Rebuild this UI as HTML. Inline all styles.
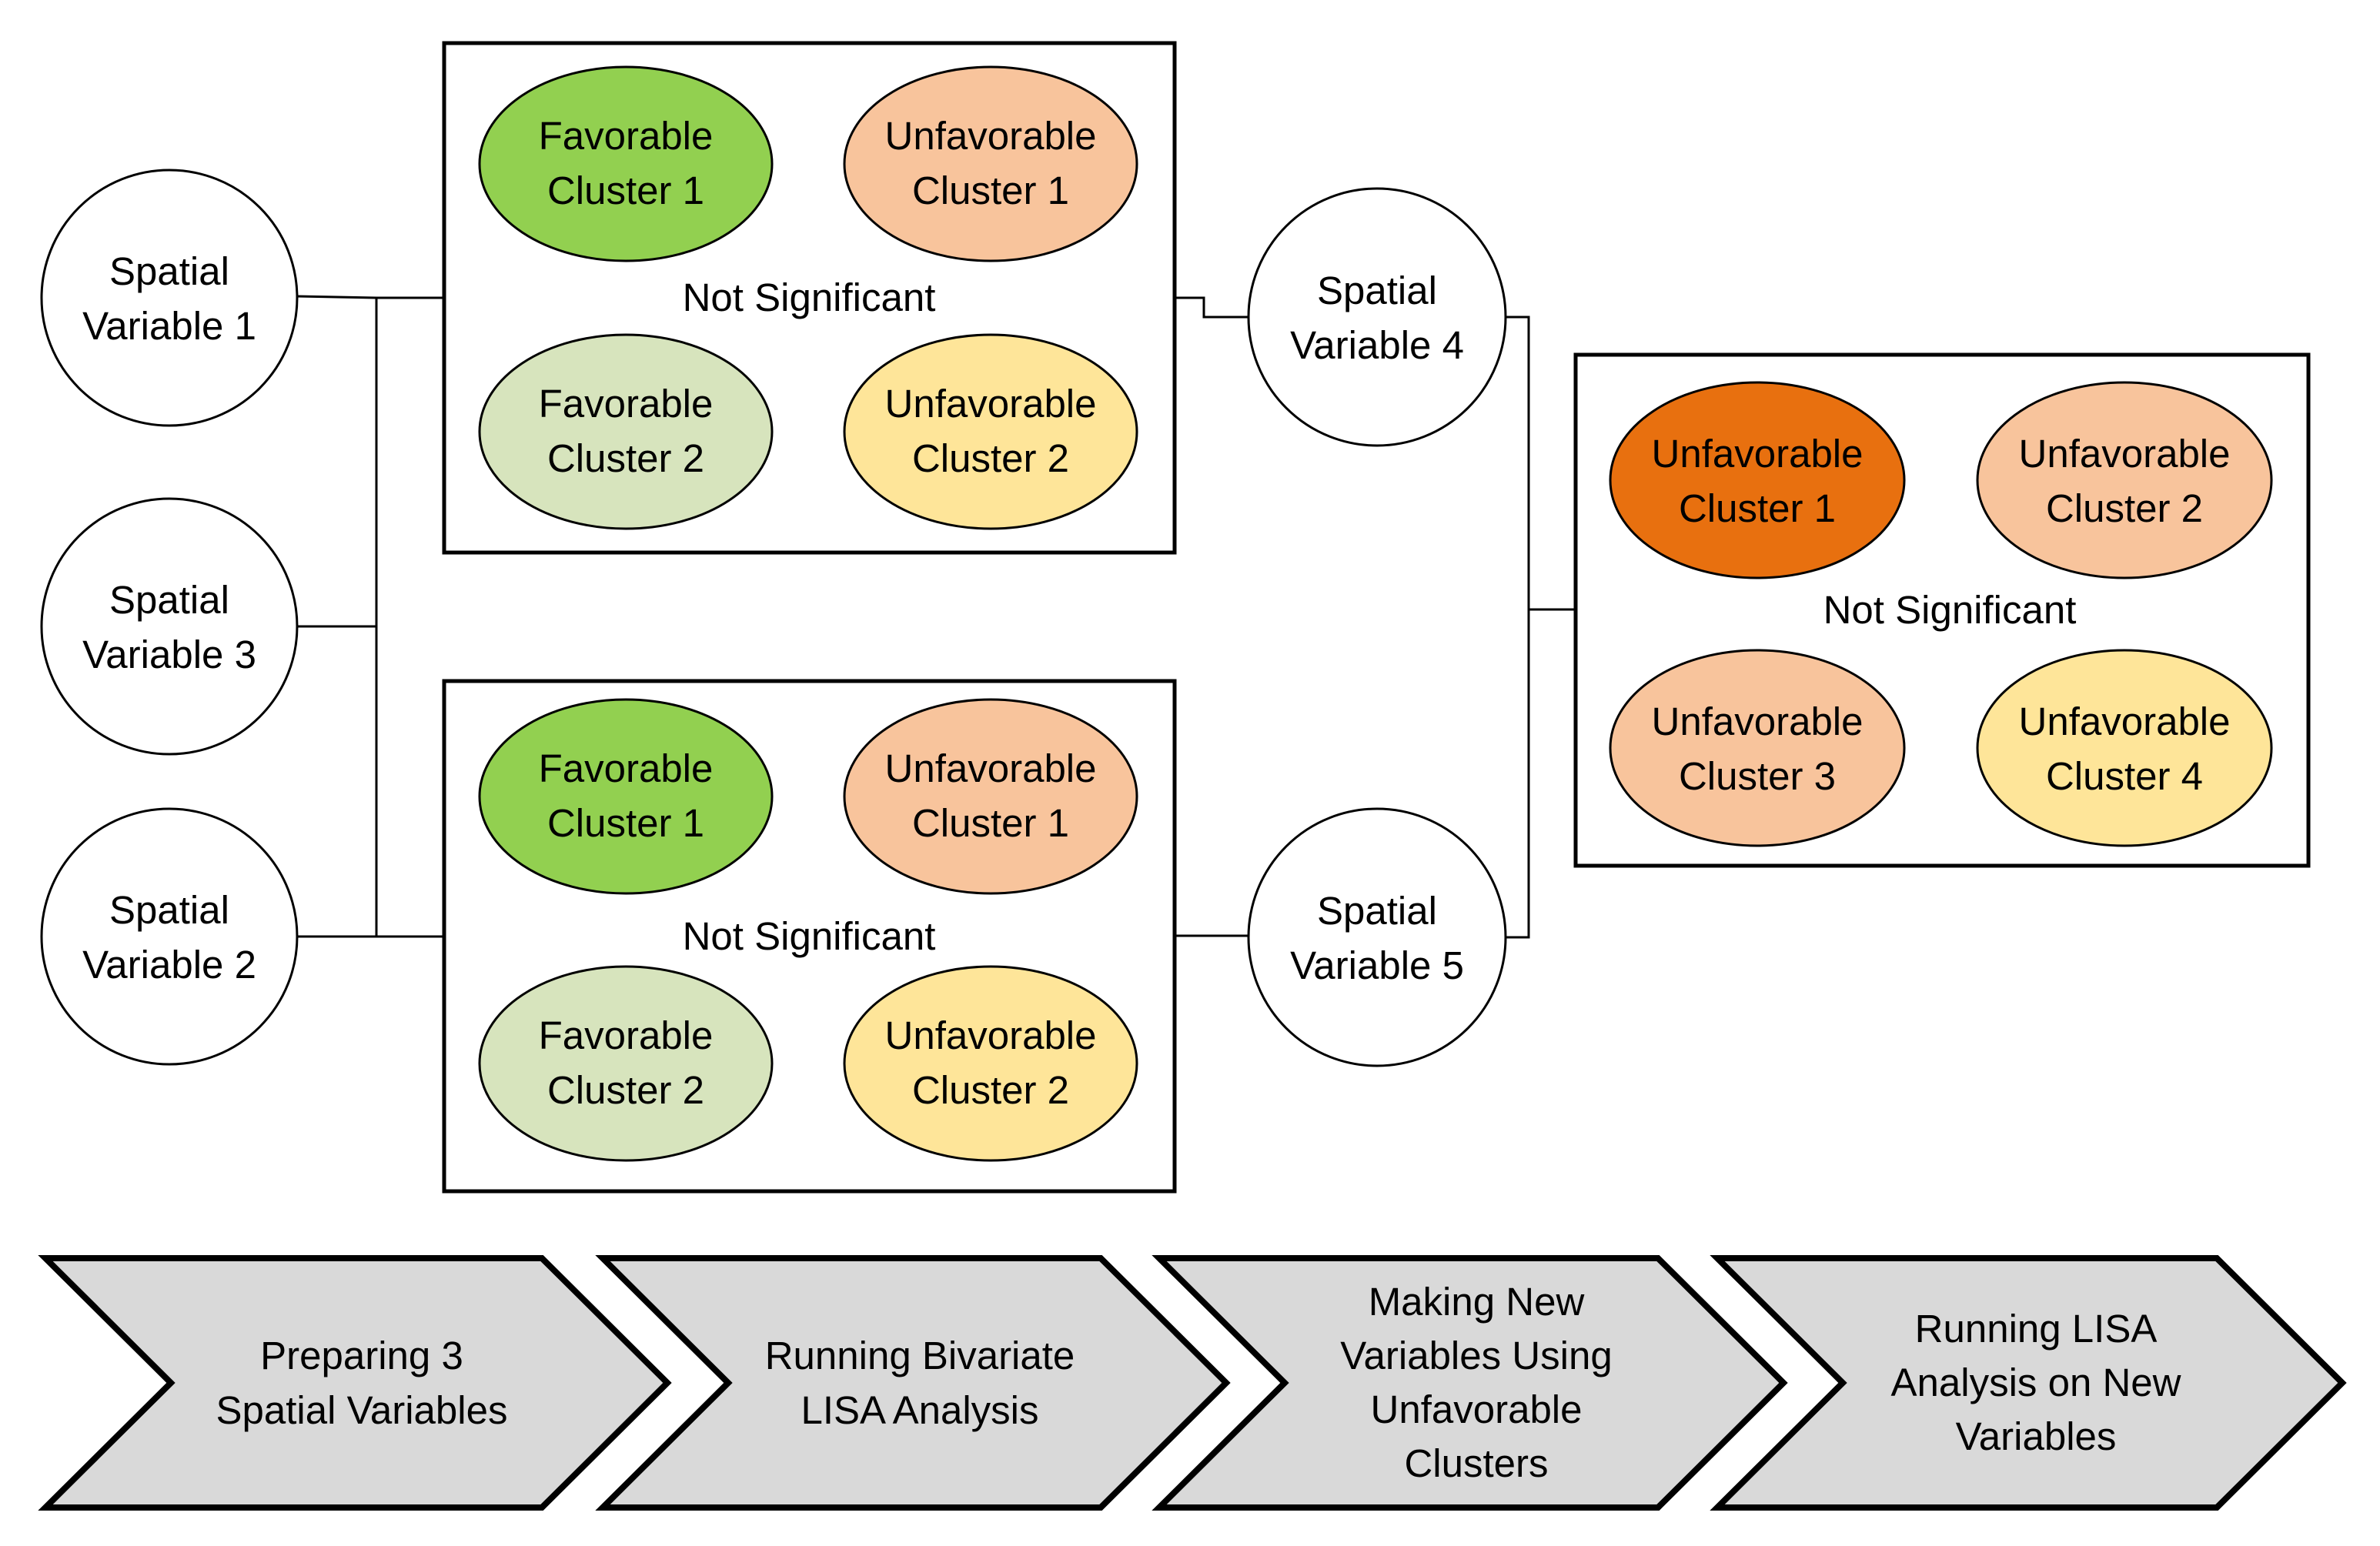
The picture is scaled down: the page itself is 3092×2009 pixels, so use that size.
<!DOCTYPE html>
<html><head><style>html,body{margin:0;padding:0;background:#fff}svg{display:block}</style></head><body>
<svg width="3092" height="2009" viewBox="0 0 3092 2009" xmlns="http://www.w3.org/2000/svg" font-family="Liberation Sans, sans-serif" font-size="51" text-anchor="middle" fill="#000">
<g fill="none" stroke="#000" stroke-width="3">
<polyline points="386,385 489,387 577,387"/>
<line x1="489" y1="387" x2="489" y2="1217"/>
<line x1="386" y1="814" x2="489" y2="814"/>
<line x1="386" y1="1217" x2="577" y2="1217"/>
<polyline points="1526,387 1564,387 1564,412 1622,412"/>
<line x1="1526" y1="1216" x2="1622" y2="1216"/>
<polyline points="1956,412 1986,412 1986,1218 1956,1218"/>
<line x1="1986" y1="792" x2="2047" y2="792"/>
</g>
<g fill="#fff" stroke="#000" stroke-width="5">
<rect x="577" y="56" width="949" height="662"/>
<rect x="577" y="885" width="949" height="663"/>
<rect x="2047" y="461" width="952" height="664"/>
</g>
<g stroke="#000" stroke-width="3">
<circle cx="220" cy="387" r="166" fill="#fff"/>
<circle cx="220" cy="814" r="166" fill="#fff"/>
<circle cx="220" cy="1217" r="166" fill="#fff"/>
<circle cx="1789" cy="412" r="167" fill="#fff"/>
<circle cx="1789" cy="1218" r="167" fill="#fff"/>
<ellipse cx="813" cy="213" rx="190" ry="126" fill="#92d050"/>
<ellipse cx="1287" cy="213" rx="190" ry="126" fill="#f8c49c"/>
<ellipse cx="813" cy="561" rx="190" ry="126" fill="#d7e4bd"/>
<ellipse cx="1287" cy="561" rx="190" ry="126" fill="#fee599"/>
<ellipse cx="813" cy="1035" rx="190" ry="126" fill="#92d050"/>
<ellipse cx="1287" cy="1035" rx="190" ry="126" fill="#f8c49c"/>
<ellipse cx="813" cy="1382" rx="190" ry="126" fill="#d7e4bd"/>
<ellipse cx="1287" cy="1382" rx="190" ry="126" fill="#fee599"/>
<ellipse cx="2283" cy="624" rx="191" ry="127" fill="#e8700f"/>
<ellipse cx="2760" cy="624" rx="191" ry="127" fill="#f8c49c"/>
<ellipse cx="2283" cy="972" rx="191" ry="127" fill="#f8c49c"/>
<ellipse cx="2760" cy="972" rx="191" ry="127" fill="#fee599"/>
</g>
<g fill="#d9d9d9" stroke="#000" stroke-width="8" stroke-linejoin="miter">
<polygon points="59,1635 704,1635 867,1797 704,1959 59,1959 222,1797"/>
<polygon points="783,1635 1430,1635 1593,1797 1430,1959 783,1959 946,1797"/>
<polygon points="1506,1635 2154,1635 2317,1797 2154,1959 1506,1959 1669,1797"/>
<polygon points="2231,1635 2880,1635 3043,1797 2880,1959 2231,1959 2394,1797"/>
</g>
<g>
<text x="220" y="370">Spatial</text><text x="220" y="441">Variable 1</text>
<text x="220" y="797">Spatial</text><text x="220" y="868">Variable 3</text>
<text x="220" y="1200">Spatial</text><text x="220" y="1271">Variable 2</text>
<text x="1789" y="395">Spatial</text><text x="1789" y="466">Variable 4</text>
<text x="1789" y="1201">Spatial</text><text x="1789" y="1272">Variable 5</text>
<text x="813" y="194">Favorable</text><text x="813" y="265">Cluster 1</text>
<text x="1287" y="194">Unfavorable</text><text x="1287" y="265">Cluster 1</text>
<text x="813" y="542">Favorable</text><text x="813" y="613">Cluster 2</text>
<text x="1287" y="542">Unfavorable</text><text x="1287" y="613">Cluster 2</text>
<text x="1051" y="404">Not Significant</text>
<text x="813" y="1016">Favorable</text><text x="813" y="1087">Cluster 1</text>
<text x="1287" y="1016">Unfavorable</text><text x="1287" y="1087">Cluster 1</text>
<text x="813" y="1363">Favorable</text><text x="813" y="1434">Cluster 2</text>
<text x="1287" y="1363">Unfavorable</text><text x="1287" y="1434">Cluster 2</text>
<text x="1051" y="1234">Not Significant</text>
<text x="2283" y="607">Unfavorable</text><text x="2283" y="678">Cluster 1</text>
<text x="2760" y="607">Unfavorable</text><text x="2760" y="678">Cluster 2</text>
<text x="2283" y="955">Unfavorable</text><text x="2283" y="1026">Cluster 3</text>
<text x="2760" y="955">Unfavorable</text><text x="2760" y="1026">Cluster 4</text>
<text x="2533" y="810">Not Significant</text>
<text x="470" y="1779">Preparing 3</text><text x="470" y="1850">Spatial Variables</text>
<text x="1195" y="1779">Running Bivariate</text><text x="1195" y="1850">LISA Analysis</text>
<text x="1918" y="1709">Making New</text><text x="1918" y="1779">Variables Using</text><text x="1918" y="1849">Unfavorable</text><text x="1918" y="1919">Clusters</text>
<text x="2645" y="1744">Running LISA</text><text x="2645" y="1814">Analysis on New</text><text x="2645" y="1884">Variables</text>
</g>
</svg>
</body></html>
